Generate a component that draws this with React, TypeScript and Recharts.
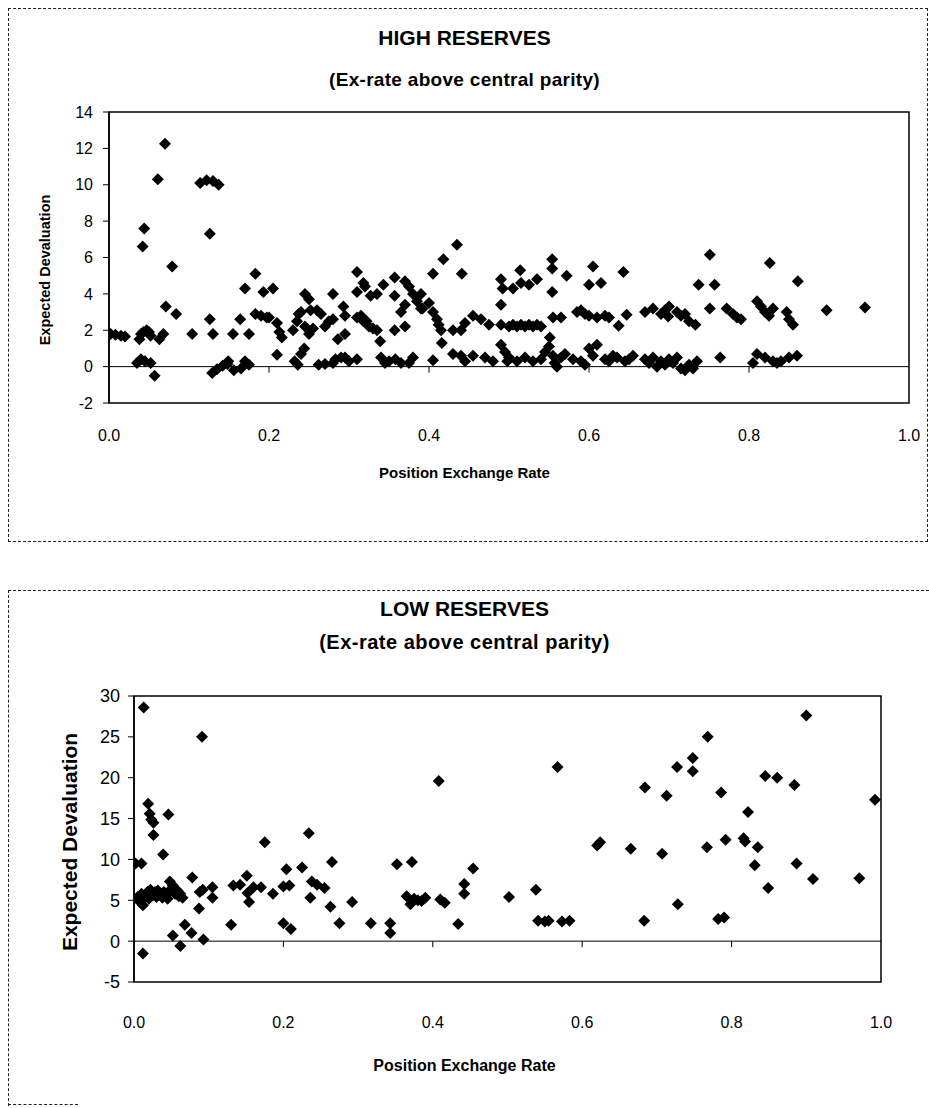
import React from 'react';
import { ScatterChart, Scatter, XAxis, YAxis, ReferenceLine, ReferenceArea } from 'recharts';

const xTicks = [0, 0.2, 0.4, 0.6, 0.8, 1.0];
const highYTicks = [-2, 0, 2, 4, 6, 8, 10, 12, 14];
const lowYTicks = [-5, 0, 5, 10, 15, 20, 25, 30];

const highReserves: [number, number][] = [
  [0.002,1.8],[0.008,1.75],[0.015,1.7],[0.02,1.65],
  [0.035,0.2],[0.038,1.5],[0.04,1.8],[0.04,0.4],[0.042,6.6],[0.043,1.9],[0.044,7.6],[0.045,0.3],[0.047,2.0],[0.05,1.9],[0.052,1.7],[0.052,0.2],[0.057,-0.5],[0.061,10.3],[0.063,1.5],[0.068,1.8],[0.07,12.25],[0.071,3.3],[0.079,5.5],[0.084,2.9],[0.104,1.8],
  [0.114,10.1],[0.122,10.25],[0.126,7.3],[0.126,2.6],[0.13,10.2],[0.13,1.8],[0.137,10.0],[0.129,-0.35],[0.135,-0.15],[0.142,0.05],[0.148,0.15],[0.149,0.3],[0.155,1.8],[0.156,-0.2],[0.164,2.6],[0.165,-0.1],[0.17,0.3],[0.17,4.3],[0.175,0.1],[0.175,1.8],[0.183,5.1],[0.183,2.9],[0.19,2.8],[0.193,4.1],[0.197,2.7],[0.2,2.7],[0.205,4.3],[0.21,2.4],[0.213,1.9],[0.216,1.6],[0.21,0.65],
  [0.23,2.0],[0.235,2.5],[0.237,2.9],[0.24,3.0],[0.245,2.2],[0.25,1.8],[0.252,3.1],[0.255,2.1],[0.26,3.1],[0.265,2.9],[0.245,4.0],[0.25,3.7],
  [0.232,0.3],[0.236,0.1],[0.24,0.7],[0.244,1.0],
  [0.262,0.1],[0.27,0.15],[0.28,0.2],[0.283,0.4],[0.29,0.5],[0.295,0.5],[0.30,0.3],[0.31,0.4],
  [0.27,2.2],[0.275,2.5],[0.28,2.6],[0.28,4.0],[0.286,1.5],[0.295,1.8],[0.293,3.3],[0.295,2.8],[0.31,5.2],[0.31,4.1],[0.318,4.6],[0.32,4.4],[0.31,2.7],[0.315,2.8],[0.318,2.5],[0.322,2.5],[0.325,2.2],[0.33,2.1],[0.335,2.0],[0.327,3.9],[0.335,4.0],[0.339,1.4],[0.343,4.5],
  [0.34,0.5],[0.345,0.2],[0.35,0.3],
  [0.357,4.9],[0.357,3.9],[0.357,2.0],[0.358,0.4],[0.365,0.2],[0.375,0.2],[0.38,0.5],
  [0.37,4.7],[0.375,4.4],[0.38,4.0],[0.385,3.6],[0.39,3.2],[0.365,3.0],[0.37,3.4],[0.37,2.2],[0.39,4.0],[0.392,3.2],
  [0.40,3.5],[0.405,3.0],[0.41,2.6],[0.412,2.3],[0.415,2.0],[0.405,5.1],[0.418,5.9],[0.435,6.7],[0.441,5.1],[0.405,0.35],[0.416,1.3],[0.43,2.0],
  [0.43,0.7],[0.44,0.6],[0.445,0.3],[0.455,0.6],[0.47,0.5],[0.48,0.3],
  [0.44,2.0],[0.445,2.4],[0.455,2.8],[0.465,2.6],[0.475,2.3],
  [0.49,4.8],[0.492,4.3],[0.49,3.4],[0.49,1.2],[0.495,0.8],[0.498,0.3],
  [0.505,4.3],[0.514,5.3],[0.515,4.6],[0.525,4.5],[0.535,4.8],[0.554,5.9],[0.554,5.4],[0.572,5.0],[0.554,4.1],[0.605,5.5],[0.6,4.5],[0.615,4.6],[0.643,5.2],
  [0.49,2.3],[0.5,2.2],[0.505,2.3],[0.51,2.2],[0.515,2.3],[0.52,2.2],[0.525,2.3],[0.53,2.2],[0.535,2.3],[0.54,2.2],
  [0.555,2.7],[0.565,2.7],[0.585,3.0],[0.59,3.1],[0.595,2.9],[0.6,2.8],[0.61,2.7],[0.62,2.8],[0.625,2.7],[0.647,2.85],[0.637,2.25],
  [0.5,0.5],[0.51,0.3],[0.52,0.5],[0.53,0.3],[0.54,0.4],[0.545,0.8],[0.55,1.1],[0.551,1.6],[0.555,0.6],[0.557,0.2],[0.56,0.0],[0.565,0.5],[0.57,0.7],
  [0.58,0.4],[0.59,0.3],[0.595,0.1],[0.6,1.0],[0.605,0.6],[0.61,1.2],[0.62,0.4],[0.625,0.3],[0.63,0.6],[0.635,0.5],[0.645,0.3],[0.65,0.4],[0.655,0.6],
  [0.67,3.0],[0.68,3.2],[0.69,2.9],[0.695,3.1],[0.699,2.75],[0.7,3.3],[0.71,3.0],[0.715,2.8],[0.72,2.9],[0.725,2.5],[0.733,2.3],
  [0.67,0.4],[0.675,0.2],[0.68,0.5],[0.685,0.0],[0.69,0.3],[0.695,0.1],[0.7,0.4],[0.705,0.2],[0.71,0.5],[0.715,-0.1],[0.72,-0.2],[0.725,0.1],[0.73,-0.1],[0.735,0.3],
  [0.737,4.5],[0.757,4.5],[0.751,6.15],[0.751,3.2],[0.764,0.5],[0.772,3.2],[0.78,2.9],[0.785,2.7],[0.79,2.6],
  [0.81,3.6],[0.815,3.3],[0.82,3.0],[0.825,2.8],[0.83,3.2],[0.826,5.7],[0.847,3.0],[0.85,2.6],[0.855,2.3],[0.861,4.7],[0.897,3.1],[0.945,3.25],
  [0.805,0.2],[0.81,0.7],[0.82,0.5],[0.83,0.3],[0.835,0.2],[0.84,0.3],[0.85,0.5],[0.86,0.6],
];

const lowReserves: [number, number][] = [
  [0.002,9.5],[0.01,9.5],[0.013,28.6],[0.012,-1.5],
  [0.0,5.2],[0.005,5.4],[0.008,4.8],[0.01,5.8],[0.012,4.4],[0.015,5.5],[0.018,6.0],[0.02,5.2],[0.022,6.3],[0.025,5.6],[0.028,6.0],[0.03,5.4],[0.032,6.2],[0.035,5.8],[0.038,5.3],[0.04,6.0],[0.043,5.7],[0.045,5.2],[0.048,7.3],[0.05,6.4],[0.052,6.8],[0.055,5.8],[0.058,6.2],[0.06,5.5],[0.062,5.8],[0.065,5.3],
  [0.019,16.8],[0.021,15.6],[0.023,14.9],[0.026,14.5],[0.026,13.0],[0.046,15.5],[0.039,10.6],
  [0.052,0.7],[0.062,-0.6],[0.068,2.0],[0.077,1.0],[0.078,7.8],[0.087,4.0],[0.091,25.0],[0.088,6.0],[0.092,6.3],[0.093,0.2],[0.105,6.6],[0.105,5.3],
  [0.13,2.0],[0.133,6.8],[0.142,6.9],[0.151,8.0],[0.152,5.9],[0.154,4.8],[0.16,6.6],[0.17,6.6],[0.175,12.1],[0.186,5.8],[0.2,6.7],[0.208,6.8],[0.204,8.8],[0.2,2.2],[0.21,1.5],
  [0.225,9.0],[0.234,13.2],[0.238,7.3],[0.245,6.9],[0.255,6.5],[0.236,5.3],[0.263,4.2],[0.265,9.7],[0.275,2.2],[0.292,4.8],[0.317,2.2],
  [0.343,2.2],[0.343,1.0],[0.352,9.4],[0.372,9.7],[0.365,5.5],[0.37,4.5],[0.375,5.2],[0.38,5.0],[0.385,4.9],[0.39,5.3],[0.408,19.6],[0.41,5.1],[0.416,4.7],[0.434,2.1],[0.442,7.0],[0.442,5.8],[0.454,8.9],
  [0.502,5.4],[0.538,6.3],[0.541,2.5],[0.55,2.4],[0.555,2.5],[0.573,2.4],[0.583,2.5],[0.567,21.3],[0.62,11.7],[0.624,12.1],[0.665,11.3],[0.684,18.8],[0.683,2.5],[0.707,10.7],[0.713,17.8],[0.727,21.3],[0.728,4.5],
  [0.748,22.4],[0.748,20.8],[0.768,25.0],[0.786,18.2],[0.767,11.5],[0.782,2.7],[0.79,2.9],[0.792,12.4],[0.816,12.6],[0.818,12.2],[0.822,15.8],[0.831,9.3],[0.835,11.5],[0.845,20.2],[0.849,6.5],[0.861,20.0],[0.884,19.1],[0.887,9.5],[0.9,27.6],[0.909,7.6],[0.971,7.7],[0.992,17.3],
];

const highData = highReserves.map(([x, y]) => ({ x, y }));
const lowData = lowReserves.map(([x, y]) => ({ x, y }));

const FONT = '"Liberation Sans", Arial, sans-serif';

const diamond = (half: number) => (props: any) => {
  const { cx, cy } = props;
  if (cx == null || cy == null) return null;
  return (
    <polygon
      points={`${cx},${cy - half} ${cx + half},${cy} ${cx},${cy + half} ${cx - half},${cy}`}
      fill="#000"
    />
  );
};

const fmt = (v: number) => v.toFixed(1);

const textStyle: React.CSSProperties = {
  position: 'absolute',
  left: 0,
  width: 929,
  textAlign: 'center',
  fontFamily: FONT,
  fontWeight: 'bold',
  color: '#000',
  whiteSpace: 'nowrap',
  lineHeight: 1,
};

export default function App() {
  return (
    <div style={{ position: 'absolute', left: 0, top: 0, width: 929, height: 1108, background: '#fff', overflow: 'hidden' }}>
      {/* Top frame */}
      <div style={{ position: 'absolute', left: 8, top: 8, width: 918, height: 532, border: '1px dashed #222' }} />
      {/* Bottom frame */}
      <div style={{ position: 'absolute', left: 8, top: 590, width: 930, height: 540, borderLeft: '1px dashed #222', borderTop: '1px dashed #222' }} />
      <div style={{ position: 'absolute', left: 8, top: 1104, width: 70, height: 0, borderTop: '1px dashed #222' }} />

      <div style={{ ...textStyle, top: 27, fontSize: 21 }}>HIGH RESERVES</div>
      <div style={{ ...textStyle, top: 70, fontSize: 19, letterSpacing: 0.3 }}>(Ex-rate above central parity)</div>
      <div style={{ ...textStyle, top: 465, fontSize: 15 }}>Position Exchange Rate</div>
      <div style={{ position: 'absolute', left: 45, top: 270, transform: 'translate(-50%, -50%) rotate(-90deg)', fontFamily: FONT, fontWeight: 'bold', fontSize: 14.5, whiteSpace: 'nowrap', lineHeight: 1 }}>Expected Devaluation</div>

      <div style={{ ...textStyle, top: 598, fontSize: 21 }}>LOW RESERVES</div>
      <div style={{ ...textStyle, top: 632, fontSize: 20, letterSpacing: 0.5 }}>(Ex-rate above central parity)</div>
      <div style={{ ...textStyle, top: 1058, fontSize: 16 }}>Position Exchange Rate</div>
      <div style={{ position: 'absolute', left: 69, top: 842, transform: 'translate(-50%, -50%) rotate(-90deg)', fontFamily: FONT, fontWeight: 'bold', fontSize: 21, whiteSpace: 'nowrap', lineHeight: 1 }}>Expected Devaluation</div>

      <div style={{ position: 'absolute', left: 0, top: 0 }}>
        <ScatterChart width={929} height={541} margin={{ top: 112, right: 20, left: 59, bottom: 108 }}>
          <XAxis type="number" dataKey="x" domain={[0, 1]} ticks={xTicks} tickFormatter={fmt} axisLine={false} tickLine={false} tickMargin={21} height={30}
            tick={{ fontSize: 16, fill: '#000', fontFamily: FONT }} allowDataOverflow />
          <YAxis type="number" dataKey="y" domain={[-2, 14]} ticks={highYTicks} width={50} tickSize={6} tickMargin={10}
            axisLine={{ stroke: '#000', strokeWidth: 1.5 }} tickLine={{ stroke: '#000' }}
            tick={{ fontSize: 16, fill: '#000', fontFamily: FONT }} allowDataOverflow />
          <ReferenceArea x1={0} x2={1} y1={-2} y2={14} fill="none" stroke="#000" strokeWidth={1.5} ifOverflow="visible" />
          <ReferenceLine y={0} stroke="#000" strokeWidth={1} />
          {xTicks.slice(1, -1).map((t) => (
            <ReferenceLine key={t} segment={[{ x: t, y: 0 }, { x: t, y: -0.33 }]} stroke="#000" />
          ))}
          <Scatter data={highData} shape={diamond(6)} isAnimationActive={false} />
        </ScatterChart>
      </div>

      <div style={{ position: 'absolute', left: 0, top: 560 }}>
        <ScatterChart width={929} height={548} margin={{ top: 136, right: 48, left: 74, bottom: 96 }}>
          <XAxis type="number" dataKey="x" domain={[0, 1]} ticks={xTicks} tickFormatter={fmt} axisLine={false} tickLine={false} tickMargin={29} height={30}
            tick={{ fontSize: 16, fill: '#000', fontFamily: FONT }} allowDataOverflow />
          <YAxis type="number" dataKey="y" domain={[-5, 30]} ticks={lowYTicks} width={60} tickSize={6} tickMargin={8}
            axisLine={{ stroke: '#000', strokeWidth: 1.5 }} tickLine={{ stroke: '#000' }}
            tick={{ fontSize: 18, fill: '#000', fontFamily: FONT }} allowDataOverflow />
          <ReferenceArea x1={0} x2={1} y1={-5} y2={30} fill="none" stroke="#000" strokeWidth={1.5} ifOverflow="visible" />
          <ReferenceLine y={0} stroke="#000" strokeWidth={1} />
          {xTicks.slice(1, -1).map((t) => (
            <ReferenceLine key={t} segment={[{ x: t, y: 0 }, { x: t, y: -0.73 }]} stroke="#000" />
          ))}
          <Scatter data={lowData} shape={diamond(6)} isAnimationActive={false} />
        </ScatterChart>
      </div>
    </div>
  );
}
